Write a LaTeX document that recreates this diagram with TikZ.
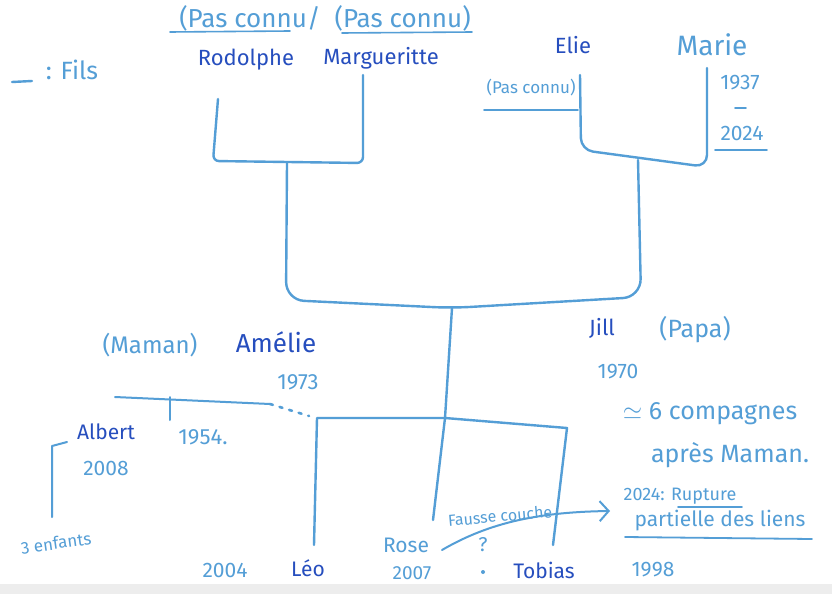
\documentclass[tikz,border=0pt]{standalone}
\usepackage{fontspec}
\setmainfont{Fira Sans}
\usetikzlibrary{arrows.meta}
\definecolor{inkL}{RGB}{84,158,214}
\definecolor{inkD}{RGB}{38,78,190}
\tikzset{
  wire/.style={draw=inkL, line width=2.4pt, line cap=round, line join=round},
  lt/.style={text=inkL, inner sep=0pt, font=\fontsize{21}{24}\selectfont},
  dk/.style={text=inkD, inner sep=0pt, font=\fontsize{21}{24}\selectfont},
}
\begin{document}
\begin{tikzpicture}[x=1pt,y=-1pt]
\useasboundingbox (0,0) rectangle (832,594);
\fill[white] (0,0) rectangle (832,594);
\fill[black!7] (0,584) rectangle (832,594);

% legend
\node[lt, font=\fontsize{25}{28}\selectfont] (fils) at (72,70) {: Fils};
\coordinate (fd1) at (12,82); \coordinate (fd2) at (32,81);
\draw[wire] (fd1) -- (fd2);

% top-left couple
\node[lt, font=\fontsize{26}{30}\selectfont] (pc) at (325,18) {(Pas connu/ \;(Pas connu)};
\coordinate (u1a) at (170,32); \coordinate (u1b) at (290,31);
\coordinate (u2a) at (342,33); \coordinate (u2b) at (472,32);
\draw[wire, line width=1.6pt] (u1a) -- (u1b);
\draw[wire, line width=1.6pt] (u2a) -- (u2b);
\node[dk, font=\fontsize{22}{26}\selectfont] (rod) at (246,60) {Rodolphe};
\node[dk, font=\fontsize{22}{26}\selectfont] (mar) at (381,58) {Margueritte};

\coordinate (rodT) at (218,99);
\coordinate (rodB) at (213,161);
\coordinate (marB) at (363,163);
\coordinate (marT) at (363,75);
\coordinate (gpL) at (287,163);
\draw[wire, rounded corners=6pt] (rodT) -- (rodB) -- (marB) -- (marT);

% top-right couple
\node[dk, font=\fontsize{22}{26}\selectfont] (eli) at (573,45) {Elie};
\node[lt, font=\fontsize{28}{32}\selectfont] (mari) at (712,45) {Marie};
\node[lt, font=\fontsize{17}{20}\selectfont] (pc2) at (531,88) {(Pas connu)};
\coordinate (pcu1) at (484,110); \coordinate (pcu2) at (578,110);
\draw[wire, line width=1.8pt] (pcu1) -- (pcu2);
\node[lt] (b37) at (740,83) {1937};
\coordinate (da) at (735,108); \coordinate (db) at (746,108);
\draw[wire, line width=1.8pt] (da) -- (db);
\node[lt] (d24) at (742,133) {2024};
\coordinate (d24a) at (715,150); \coordinate (d24b) at (767,150);
\draw[wire, line width=1.8pt] (d24a) -- (d24b);

\coordinate (eliT) at (580,75);
\coordinate (eliB) at (581,150);
\coordinate (mB) at (707,167);
\coordinate (mT) at (707,68);
\coordinate (gpR) at (638,160);
\draw[wire, rounded corners=12pt] (eliT) -- (eliB) -- (mB) -- (mT);

% parents link
\coordinate (pj) at (452,308);
\draw[wire, rounded corners=18pt] (gpL) -- (286,300) -- (pj) -- (641,297) -- (gpR);

% parents
\node[lt, font=\fontsize{24}{28}\selectfont] (maman) at (150,345) {(Maman)};
\node[dk, font=\fontsize{26}{30}\selectfont] (ame) at (276,342) {Amélie};
\node[lt, font=\fontsize{22}{26}\selectfont] (b73) at (298,382) {1973};
\node[dk, font=\fontsize{22}{26}\selectfont] (jill) at (602,328) {Jill};
\node[lt, font=\fontsize{25}{28}\selectfont] (papa) at (695,330) {(Papa)};
\node[lt] (b70) at (618,372) {1970};
\node[lt, font=\fontsize{25}{28}\selectfont] (comp) at (710,414) {$\simeq$ 6 compagnes};
\node[lt, font=\fontsize{25}{28}\selectfont] (apres) at (730,455) {après Maman.};

% children junction
\coordinate (cj) at (445,418);
\draw[wire] (pj) -- (cj);
\coordinate (leoT) at (317,418);
\coordinate (leoB) at (314,545);
\coordinate (roseB) at (433,520);
\coordinate (tobT) at (567,428);
\coordinate (tobB) at (553,545);
\draw[wire] (leoB) -- (leoT) -- (cj) -- (tobT) -- (tobB);
\draw[wire] (cj) -- (roseB);

% Amelie's earlier union
\coordinate (al1) at (115,397);
\coordinate (al2) at (270,404);
\coordinate (al3) at (309,416);
\coordinate (tk1) at (170,397);
\coordinate (tk2) at (170,420);
\draw[wire, line width=2pt] (al1) -- (al2);
\draw[wire, line width=2.6pt, dash pattern=on 3pt off 7pt] (al2) -- (al3);
\draw[wire, line width=2pt] (tk1) -- (tk2);
\node[dk] (alb) at (106,432) {Albert};
\node[lt, font=\fontsize{22}{26}\selectfont] (b54) at (203,437) {1954.};
\node[lt] (d08) at (106,468) {2008};
\coordinate (br1) at (67,442);
\coordinate (br2) at (52,446);
\coordinate (br3) at (52,517);
\draw[wire, line width=2pt] (br1) -- (br2) -- (br3);
\node[lt, font=\fontsize{17}{20}\selectfont, rotate=8] (enf) at (56,543) {3 enfants};

% children
\node[lt] (b04) at (225,570) {2004};
\node[dk] (leo) at (308,568) {Léo};
\node[lt] (rose) at (406,545) {Rose};
\node[lt, font=\fontsize{19}{22}\selectfont] (b07) at (412,573) {2007};
\node[lt, font=\fontsize{20}{22}\selectfont] (q) at (483,545) {?};
\coordinate (qd) at (483,572);
\fill[inkL] (qd) circle (2pt);
\node[dk] (tob) at (544,570) {Tobias};
\node[lt] (b98) at (653,570) {1998};

% miscarriage arrow
\node[lt, font=\fontsize{16}{19}\selectfont, rotate=5] (fc) at (500,516) {Fausse couche};
\coordinate (fa1) at (442,550);
\coordinate (fa2) at (610,511);
\draw[wire, line width=2pt, -{Straight Barb[length=9pt,width=20pt,line width=2pt]}]
  (fa1) .. controls (490,522) and (540,512) .. (fa2);

% rupture
\node[lt, font=\fontsize{18}{21}\selectfont] (rup1) at (680,496) {2024: Rupture};
\node[lt, font=\fontsize{21}{24}\selectfont] (rup2) at (720,521) {partielle des liens};
\coordinate (ru1) at (678,507); \coordinate (ru2) at (742,507);
\coordinate (ru3) at (625,537); \coordinate (ru4) at (812,539);
\draw[wire, line width=1.6pt] (ru1) -- (ru2);
\draw[wire, line width=1.8pt] (ru3) -- (ru4);
\end{tikzpicture}
\end{document}
